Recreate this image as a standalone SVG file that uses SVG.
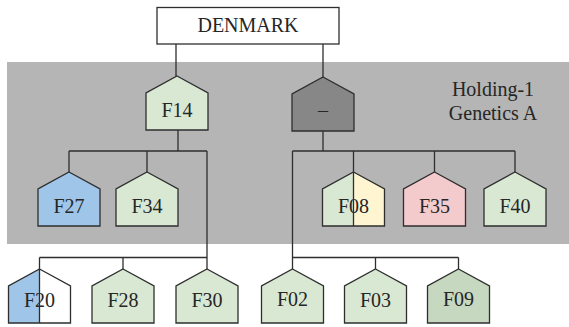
<svg xmlns="http://www.w3.org/2000/svg" xmlns:xlink="http://www.w3.org/1999/xlink" width="569" height="327" viewBox="0 0 569 327">
<defs>
<style>
.ln{stroke:#2e2e2e;stroke-width:1.3;fill:none}
.hs{stroke:#2e2e2e;stroke-width:1.3}
.t{font-family:"Liberation Serif","Times New Roman",serif;font-size:20px;fill:#262626;text-anchor:middle}
.g{fill:#d9e8d3}
.b{fill:#9fc5e8}
.y{fill:#fff5d0}
.p{fill:#f4cbcc}
.d{fill:#878787}
.dg{fill:#c6d8c0}
.w{fill:#ffffff}
</style>
<path id="h" d="M0,0 L31,17 L31,54 L-31,54 L-31,17 Z"/>
<path id="hl" d="M0,0 L0,54 L-31,54 L-31,17 Z"/>
<path id="hr" d="M0,0 L31,17 L31,54 L0,54 Z"/>
</defs>
<rect x="0" y="0" width="569" height="327" fill="#ffffff"/>
<rect id="holding" x="7" y="62" width="562" height="182" fill="#b4b5b4"/>
<g id="holding-label" class="t" style="font-size:20px">
<text x="493" y="96">Holding-1</text>
<text x="493" y="120">Genetics A</text>
</g>
<g id="denmark">
<rect x="157" y="7.5" width="182" height="36.5" fill="#ffffff" class="ln"/>
<text class="t" x="248" y="32">DENMARK</text>
</g>
<g id="F14"><use href="#h" x="177" y="76" class="g hs"/><text class="t" x="177" y="117">F14</text></g>
<g id="dash"><use href="#h" x="323" y="77" class="d hs"/><text class="t" x="323" y="117">–</text></g>
<g id="F27"><use href="#h" x="69" y="172" class="b hs"/><text class="t" x="69" y="213">F27</text></g>
<g id="F34"><use href="#h" x="147" y="172" class="g hs"/><text class="t" x="147" y="213">F34</text></g>
<g id="F08"><use href="#hl" x="353.5" y="172" class="g"/><use href="#hr" x="353.5" y="172" class="y"/><use href="#h" x="353.5" y="172" class="ln"/><text class="t" x="353.5" y="213">F08</text></g>
<g id="F35"><use href="#h" x="434.5" y="172" class="p hs"/><text class="t" x="434.5" y="213">F35</text></g>
<g id="F40"><use href="#h" x="515" y="172" class="g hs"/><text class="t" x="515" y="213">F40</text></g>
<g id="F20"><use href="#hl" x="39.5" y="269" class="b"/><use href="#hr" x="39.5" y="269" class="w"/><use href="#h" x="39.5" y="269" class="ln"/><text class="t" x="39.5" y="307">F20</text></g>
<g id="F28"><use href="#h" x="123" y="269" class="g hs"/><text class="t" x="123" y="307">F28</text></g>
<g id="F30"><use href="#h" x="207" y="269" class="g hs"/><text class="t" x="207" y="307">F30</text></g>
<g id="F02"><use href="#h" x="292.5" y="269" class="g hs"/><text class="t" x="292.5" y="305.5">F02</text></g>
<g id="F03"><use href="#h" x="375.5" y="269" class="g hs"/><text class="t" x="375.5" y="307">F03</text></g>
<g id="F09"><use href="#h" x="458.5" y="269" class="dg hs"/><text class="t" x="458.5" y="305.5">F09</text></g>
<g id="connectors" class="ln">
<path d="M176,44 V76 M323,44 V77"/>
<path d="M178,130 V151 M69,151 H207 M69,151 V172 M147,151 V172 M207,151 V269"/>
<path d="M39.5,257.5 H207 M39.5,257.5 V323 M123,257.5 V269"/>
<path d="M323,131 V151 M292.5,151 H515 M353.5,151 V226 M434.5,151 V172 M515,151 V172 M292.5,151 V269"/>
<path d="M292.5,257.5 H458.5 M375.5,257.5 V269 M458.5,257.5 V269"/>
</g>
</svg>
